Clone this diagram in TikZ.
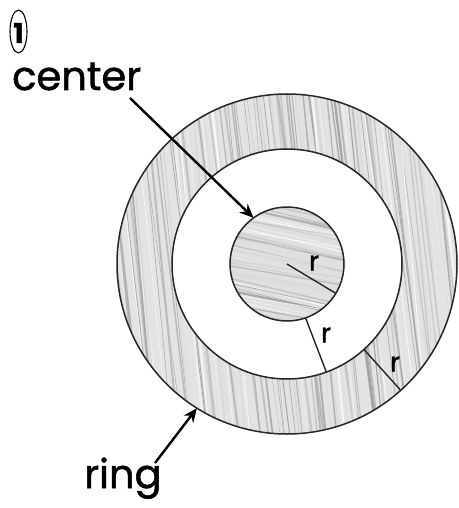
\documentclass[tikz,border=0pt]{standalone}
\usepackage{fontspec}
\setmainfont{Poppins}[FakeBold=1.3]
\usetikzlibrary{arrows.meta}
\begin{document}
\begin{tikzpicture}[x=1pt,y=-1pt,
  ringline/.style={draw=black!85, line width=1.5pt, circle, inner sep=0pt, outer sep=0pt},
  rline/.style={draw=black!85, line width=1.4pt},
  rlabel/.style={font=\fontsize{27}{27}\selectfont, inner sep=0pt},
  biglabel/.style={font=\fontsize{40}{40}\selectfont, inner sep=0pt},
  pointer/.style={draw=black, line width=2.4pt, -{Stealth[length=14pt,width=12pt]}}]
\useasboundingbox (0,0) rectangle (458,508);
\coordinate (O) at (287,264);
% ring hatching
\begin{scope}[even odd rule]
  \clip (O) circle (170pt) (O) circle (115pt);
  \fill[gray!22] (O) circle (170pt);
  \pgfmathsetseed{7}
  \foreach \i in {0,...,110} {
    \pgfmathsetmacro\xx{70+\i*3.3+rand*1.5}
    \pgfmathsetmacro\g{int(rnd*42)}
    \pgfmathsetmacro\lw{0.5+rnd*2}
    \pgfmathsetmacro\dx{40+rand*8}
    \draw[black!\g, line width=\lw pt, opacity=0.8] (\xx,88) -- (\xx+\dx,440);
  }
\end{scope}
% center hatching
\begin{scope}
  \clip (O) circle (57pt);
  \fill[gray!25] (O) circle (57pt);
  \pgfmathsetseed{11}
  \foreach \i in {0,...,45} {
    \pgfmathsetmacro\yy{190+\i*3.1+rand*1}
    \pgfmathsetmacro\g{int(rnd*40)}
    \pgfmathsetmacro\lw{0.5+rnd*1.8}
    \pgfmathsetmacro\dy{26+rand*6}
    \draw[black!\g, line width=\lw pt, opacity=0.8] (225,\yy) -- (350,\yy+\dy);
  }
\end{scope}
% circles
\node[ringline, minimum size=340pt] (outer) at (O) {};
\node[ringline, minimum size=230pt] (middle) at (O) {};
\node[ringline, minimum size=114pt] (inner) at (O) {};
% radius lines
\draw[rline] (inner.center) -- (inner.-31);
\draw[rline] (inner.-71) -- (middle.-70);
\draw[rline] (middle.-48.5) -- (outer.-48.5);
\node[rlabel] (r1) at (314,263) {r};
\node[rlabel] (r2) at (326,335) {r};
\node[rlabel] (r3) at (395,364) {r};
% labels
\draw[line width=1.1pt] (18.5,31.5) ellipse (8.5pt and 21.5pt);
\node[font=\fontsize{27}{27}\selectfont\bfseries, inner sep=0pt] (num) at (18.5,33) {1};
\node[biglabel, anchor=base west] (ctext) at (12,90) {center};
\node[biglabel, anchor=base west] (rtext) at (84,488) {ring};
\coordinate (cs) at (130,98);
\coordinate (rs) at (155,463);
\draw[pointer] (cs) -- (inner.126);
\draw[pointer] (rs) -- (outer.238);
\end{tikzpicture}
\end{document}
